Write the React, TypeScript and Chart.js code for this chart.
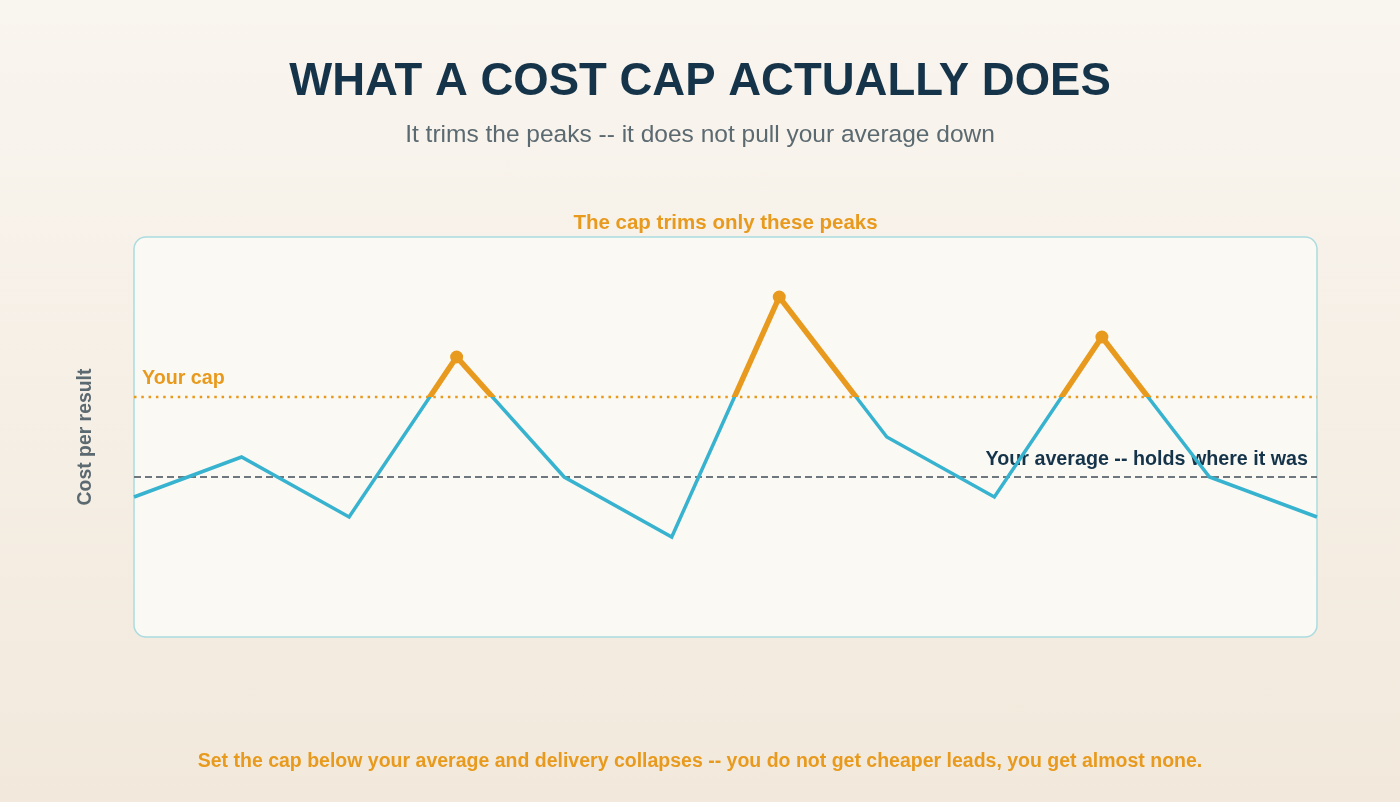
import React, { useEffect, useRef } from "react";
import { Chart, registerables } from "chart.js";

Chart.register(...registerables);

const periods = ["1", "2", "3", "4", "5", "6", "7", "8", "9", "10", "11", "12"];
const costPerResult = [35, 45, 30, 70, 40, 25, 85, 50, 35, 75, 40, 30];
const capValue = [60];
const averageValue = [40];

const TITLE = "WHAT A COST CAP ACTUALLY DOES";
const SUBTITLE = "It trims the peaks -- it does not pull your average down";
const PEAK_NOTE = "The cap trims only these peaks";
const CAP_LABEL = "Your cap";
const AVG_LABEL = "Your average -- holds where it was";
const Y_TITLE = "Cost per result";
const FOOTER = "Set the cap below your average and delivery collapses -- you do not get cheaper leads, you get almost none.";

const BLUE = "#38b3cf";
const ORANGE = "#e89a1e";
const NAVY = "#15344a";
const GRAY = "#5b6970";
const FONT = "'Liberation Sans', Arial, Helvetica, sans-serif";

function roundRect(ctx: CanvasRenderingContext2D, x: number, y: number, w: number, h: number, r: number) {
  ctx.beginPath();
  ctx.moveTo(x + r, y);
  ctx.lineTo(x + w - r, y);
  ctx.arcTo(x + w, y, x + w, y + r, r);
  ctx.lineTo(x + w, y + h - r);
  ctx.arcTo(x + w, y + h, x + w - r, y + h, r);
  ctx.lineTo(x + r, y + h);
  ctx.arcTo(x, y + h, x, y + h - r, r);
  ctx.lineTo(x, y + r);
  ctx.arcTo(x, y, x + r, y, r);
  ctx.closePath();
}

const decorPlugin = {
  id: "decor",
  beforeDatasetsDraw(chart: any) {
    const { ctx, chartArea: a, scales } = chart;
    const y = scales.y;
    ctx.save();
    // panel
    roundRect(ctx, a.left, a.top, a.right - a.left, a.bottom - a.top, 12);
    ctx.fillStyle = "#fbf9f4";
    ctx.fill();
    ctx.lineWidth = 1.5;
    ctx.strokeStyle = "#abdbe0";
    ctx.stroke();

    // cap line
    const capY = y.getPixelForValue(capValue[0]);
    ctx.beginPath();
    ctx.setLineDash([2.5, 4.8]);
    ctx.lineWidth = 2.5;
    ctx.strokeStyle = ORANGE;
    ctx.moveTo(a.left, capY);
    ctx.lineTo(a.right, capY);
    ctx.stroke();

    // average line
    const avgY = y.getPixelForValue(averageValue[0]);
    ctx.beginPath();
    ctx.setLineDash([7, 4]);
    ctx.lineWidth = 2;
    ctx.strokeStyle = "#6d777d";
    ctx.moveTo(a.left, avgY);
    ctx.lineTo(a.right, avgY);
    ctx.stroke();
    ctx.setLineDash([]);

    // labels
    ctx.font = `bold 19.7px ${FONT}`;
    ctx.fillStyle = ORANGE;
    ctx.textAlign = "left";
    ctx.textBaseline = "alphabetic";
    ctx.fillText(CAP_LABEL, a.left + 8, capY - 13);

    ctx.fillStyle = NAVY;
    ctx.textAlign = "right";
    ctx.fillText(AVG_LABEL, a.right - 9, avgY - 12);
    ctx.restore();
  },
  beforeDatasetDraw(chart: any, args: any) {
    if (args.index === 0) {
      const { ctx, chartArea: a, scales } = chart;
      const capY = scales.y.getPixelForValue(capValue[0]);
      ctx.save();
      ctx.beginPath();
      ctx.rect(a.left - 20, 0, a.right - a.left + 40, capY);
      ctx.clip();
    }
  },
  afterDatasetDraw(chart: any, args: any) {
    if (args.index === 0) {
      chart.ctx.restore();
    }
  },
  afterDraw(chart: any) {
    const { ctx, chartArea: a } = chart;
    const cx = (a.left + a.right) / 2;
    ctx.save();
    ctx.textAlign = "center";
    ctx.textBaseline = "alphabetic";

    ctx.fillStyle = NAVY;
    ctx.font = `bold 45.5px ${FONT}`;
    ctx.fillText(TITLE, 700, 95);

    ctx.fillStyle = GRAY;
    ctx.font = `24.5px ${FONT}`;
    ctx.fillText(SUBTITLE, 700, 142);

    ctx.fillStyle = ORANGE;
    ctx.font = `bold 20.5px ${FONT}`;
    ctx.fillText(PEAK_NOTE, cx, 229);

    ctx.font = `bold 19.5px ${FONT}`;
    ctx.fillText(FOOTER, 700, 767);

    ctx.translate(91, (a.top + a.bottom) / 2);
    ctx.rotate(-Math.PI / 2);
    ctx.fillStyle = GRAY;
    ctx.font = `bold 19.4px ${FONT}`;
    ctx.fillText(Y_TITLE, 0, 0);
    ctx.restore();
  },
};

function isPeak(i: number): boolean {
  const v = costPerResult[i];
  if (v <= capValue[0]) return false;
  const prev = i > 0 ? costPerResult[i - 1] : -Infinity;
  const next = i < costPerResult.length - 1 ? costPerResult[i + 1] : -Infinity;
  return v >= prev && v >= next;
}

export default function App() {
  const ref = useRef<HTMLCanvasElement>(null);

  useEffect(() => {
    if (!ref.current) return;
    const chart = new Chart(ref.current, {
      type: "line",
      data: {
        labels: periods,
        datasets: [
          {
            data: costPerResult,
            borderColor: ORANGE,
            backgroundColor: ORANGE,
            borderWidth: 5.5,
            pointRadius: (c: any) => (isPeak(c.dataIndex) ? 6.5 : 0),
            pointBorderWidth: 0,
            pointHoverRadius: 0,
            tension: 0,
            fill: false,
            clip: false as any,
          },
          {
            data: costPerResult,
            borderColor: BLUE,
            borderWidth: 3.5,
            pointRadius: 0,
            tension: 0,
            fill: false,
            clip: false as any,
          },
        ],
      },
      options: {
        animation: false,
        responsive: false,
        maintainAspectRatio: false,
        events: [],
        layout: { padding: { left: 134, top: 237, right: 83, bottom: 165 } },
        plugins: { legend: { display: false }, tooltip: { enabled: false }, title: { display: false } },
        scales: {
          x: { display: false, offset: false },
          y: { display: false, min: 0, max: 100 },
        },
      },
      plugins: [decorPlugin],
    });
    return () => chart.destroy();
  }, []);

  return (
    <div
      style={{
        position: "absolute",
        left: 0,
        top: 0,
        width: 1400,
        height: 802,
        background: "linear-gradient(180deg, #f9f5ef 0%, #f2e9dc 100%)",
      }}
    >
      <canvas ref={ref} width={1400} height={802} style={{ width: 1400, height: 802, display: "block" }} />
    </div>
  );
}
